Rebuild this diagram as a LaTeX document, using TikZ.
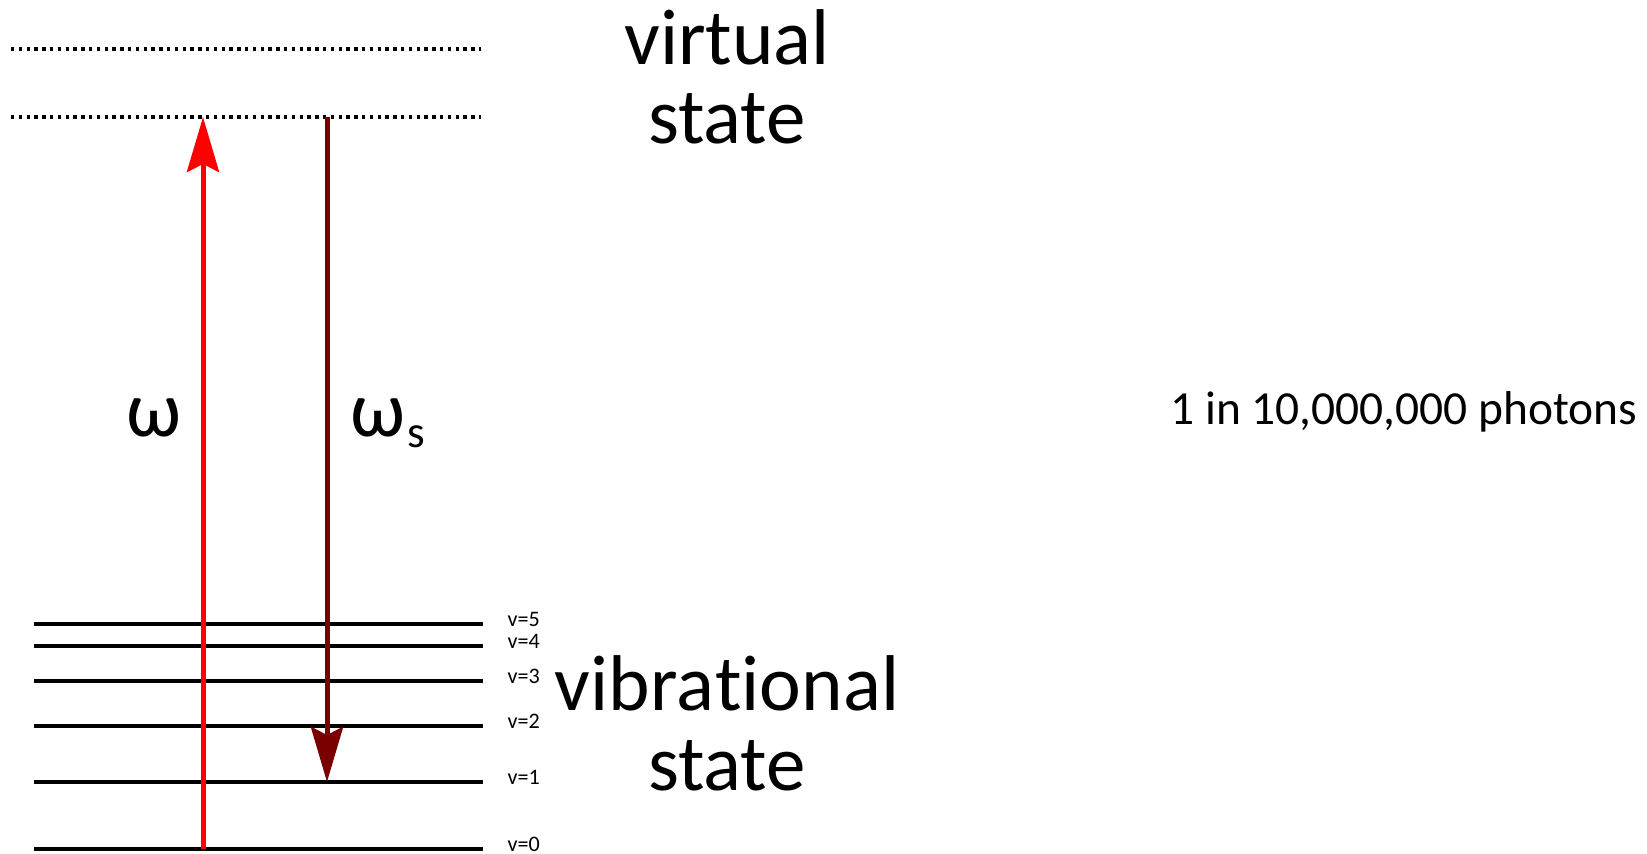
\documentclass[tikz,border=0pt]{standalone}
\usepackage{fontspec}
\setmainfont{Carlito}[Ligatures=NoCommon]
\usepackage{xcolor}
\usepackage{tikz}
\usetikzlibrary{arrows.meta}
\definecolor{stokesred}{RGB}{122,0,0}

\begin{document}
\begin{tikzpicture}[x=0.1mm,y=-0.1mm,
    level/.style={line width=0.45mm},
    virt/.style={line width=0.34mm,dash pattern=on 0.34mm off 0.44mm},
    photon/.style={line width=0.5mm,-{Stealth[length=5.5mm,width=3.2mm,inset=0.8mm]}},
    big/.style={font=\fontsize{22.5}{27}\selectfont,inner sep=0,anchor=base}]
    \useasboundingbox (0,0) rectangle (1647,854);
    % vibrational levels, v=0 ... v=5
    \foreach \v/\y in {0/849,1/782,2/726,3/681,4/646,5/624} {
      \draw[level] (34,\y) coordinate (v\v) -- (483,\y) coordinate (v\v e);
      \node[font=\fontsize{6.3}{7}\selectfont,anchor=west,inner sep=0] (lab\v) at (507,\y-5) {v=\v};
    }
    % virtual levels
    \draw[virt] (11,49) coordinate (virtA) -- (481,49);
    \draw[virt] (11,117) coordinate (virtB) -- (481,117);
    % excitation and Stokes emission
    \coordinate (pump0) at (203,849);
    \coordinate (pump1) at (203,117);
    \coordinate (stokes0) at (327,117);
    \coordinate (stokes1) at (327,782);
    \draw[photon,red] (pump0) -- (pump1);
    \draw[photon,stokesred] (stokes0) -- (stokes1);
    \node[big] (omega) at (154,436) {ω};
    \node[big,anchor=base west] (omegas) at (350,436)
      {ω\kern0.6pt\raisebox{-3.4pt}{\fontsize{12.8}{14}\selectfont s}};
    % labels
    \node[big] (virt1) at (727,65) {virtual};
    \node[big] (virt2) at (727,144) {state};
    \node[big] (vib1) at (727,710) {vibra\kern0.4pt tional};
    \node[big] (vib2) at (727,790) {state};
    \node[font=\fontsize{13.5}{16}\selectfont,anchor=base east,inner sep=0] (ratio)
      at (1638,424) {1 in 10,000,000 photons};
  \end{tikzpicture}
\end{document}
